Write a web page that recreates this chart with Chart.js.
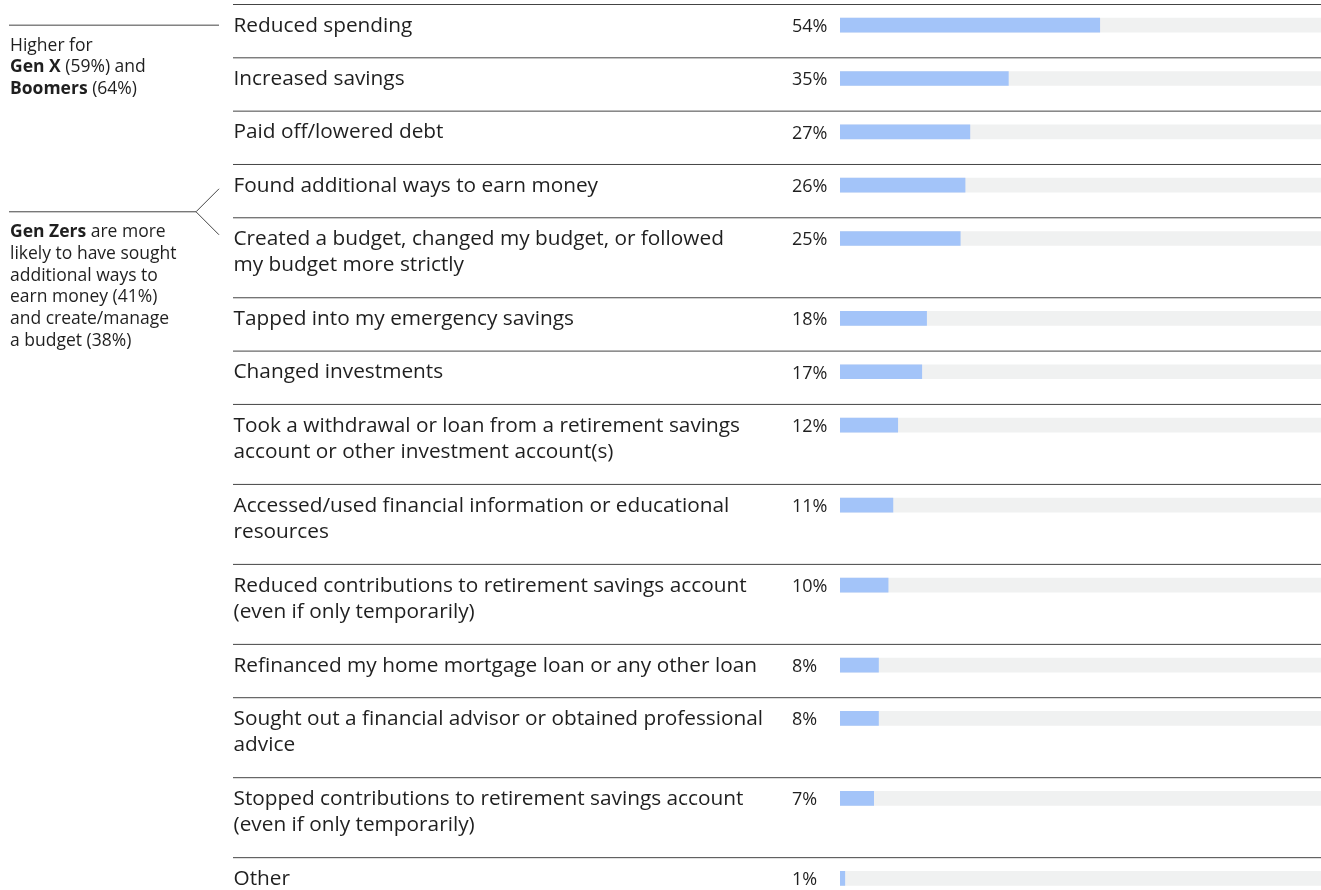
<!DOCTYPE html>
<html>
<head>
<meta charset="utf-8">
<script src="https://cdn.jsdelivr.net/npm/chart.js@4.4.1/dist/chart.umd.min.js"></script>
<style>
  html, body { margin: 0; padding: 0; background: #fff; overflow: hidden; }
  #wrap { position: relative; width: 1321px; height: 912px; }
</style>
</head>
<body>
<div id="wrap"><canvas id="chart"></canvas></div>
<script>
// each label is a list of its text lines
const categories = [
  ['Reduced spending'],
  ['Increased savings'],
  ['Paid off/lowered debt'],
  ['Found additional ways to earn money'],
  ['Created a budget, changed my budget, or followed', 'my budget more strictly'],
  ['Tapped into my emergency savings'],
  ['Changed investments'],
  ['Took a withdrawal or loan from a retirement savings', 'account or other investment account(s)'],
  ['Accessed/used financial information or educational', 'resources'],
  ['Reduced contributions to retirement savings account', '(even if only temporarily)'],
  ['Refinanced my home mortgage loan or any other loan'],
  ['Sought out a financial advisor or obtained professional', 'advice'],
  ['Stopped contributions to retirement savings account', '(even if only temporarily)'],
  ['Other']
];
const percentages = [54, 35, 27, 26, 25, 18, 17, 12, 11, 10, 8, 8, 7, 1];

// side notes: [text, bold] segments per line
const noteHigher = [
  [['Higher for', false]],
  [['Gen X', true], [' (59%) and', false]],
  [['Boomers', true], [' (64%)', false]]
];
const noteGenZ = [
  [['Gen Zers', true], [' are more', false]],
  [['likely to have sought', false]],
  [['additional ways to', false]],
  [['earn money (41%)', false]],
  [['and create/manage', false]],
  [['a budget (38%)', false]]
];

const FONT = '"Open Sans", "Noto Sans", sans-serif';
const TEXT = '#1f1f1f';
const RULE = '#444';

// row heights in half-line units: one-line rows 2, two-line rows 3
const rowTops = [];
let acc = 0;
categories.forEach(c => { rowTops.push(acc); acc += c.length + 1; });
const totalUnits = acc;
const barPos = rowTops.map(t => t + 0.775);

const sidePlugin = {
  id: 'side',
  afterDatasetsDraw(chart) {
    const ctx = chart.ctx;
    const y = chart.scales.y;
    ctx.save();

    // row rules
    ctx.strokeStyle = RULE;
    ctx.lineWidth = 1;
    rowTops.forEach(t => {
      const py = y.getPixelForValue(t);
      ctx.beginPath();
      ctx.moveTo(233, py);
      ctx.lineTo(chart.width, py);
      ctx.stroke();
    });

    // labels and percentages
    ctx.fillStyle = TEXT;
    ctx.textBaseline = 'alphabetic';
    ctx.textAlign = 'left';
    categories.forEach((lines, i) => {
      const py = y.getPixelForValue(barPos[i]);
      ctx.font = '20.8px ' + FONT;
      lines.forEach((ln, k) => ctx.fillText(ln, 233.5, py + 6.6 + k * 26.3));
      ctx.font = '18px ' + FONT;
      ctx.fillText(percentages[i] + '%', 792, py + 7);
    });

    const drawNote = (lines, top) => {
      lines.forEach((segs, k) => {
        let x = 10;
        segs.forEach(([txt, bold]) => {
          ctx.font = (bold ? 'bold ' : '') + '17.5px ' + FONT;
          ctx.fillText(txt, x, top + k * 21.7);
          x += ctx.measureText(txt).width;
        });
      });
    };

    // note 1: straight rule level with first bar
    const y0 = y.getPixelForValue(barPos[0]);
    ctx.beginPath();
    ctx.moveTo(9, y0);
    ctx.lineTo(219, y0);
    ctx.stroke();
    drawNote(noteHigher, y0 + 25.5);

    // note 2: bracket pointing at rows 4 and 5
    const ya = y.getPixelForValue(barPos[3]);
    const yb = y.getPixelForValue(barPos[4]);
    const vy = (ya + yb) / 2;
    ctx.beginPath();
    ctx.moveTo(9, vy);
    ctx.lineTo(196, vy);
    ctx.lineTo(219, vy - 23);
    ctx.moveTo(196, vy);
    ctx.lineTo(219, vy + 23);
    ctx.stroke();
    drawNote(noteGenZ, vy + 25.5);

    ctx.restore();
  }
};

new Chart(document.getElementById('chart'), {
  type: 'bar',
  data: {
    datasets: [
      {
        data: percentages.map((v, i) => ({ x: v, y: barPos[i] })),
        backgroundColor: '#a3c4f9',
        order: 0
      },
      {
        data: barPos.map(p => ({ x: 100, y: p })),
        backgroundColor: '#f0f1f1',
        order: 1
      }
    ]
  },
  options: {
    indexAxis: 'y',
    responsive: true,
    maintainAspectRatio: false,
    animation: false,
    datasets: { bar: { barThickness: 14, grouped: false, borderWidth: 0 } },
    layout: { padding: { left: 840, top: 4.5, right: 0, bottom: 1 } },
    scales: {
      x: { type: 'linear', min: 0, max: 100, display: false, offset: false },
      y: { type: 'linear', min: 0, max: totalUnits, reverse: true, display: false, offset: false }
    },
    plugins: { legend: { display: false }, tooltip: { enabled: false } }
  },
  plugins: [sidePlugin]
});
</script>
</body>
</html>
